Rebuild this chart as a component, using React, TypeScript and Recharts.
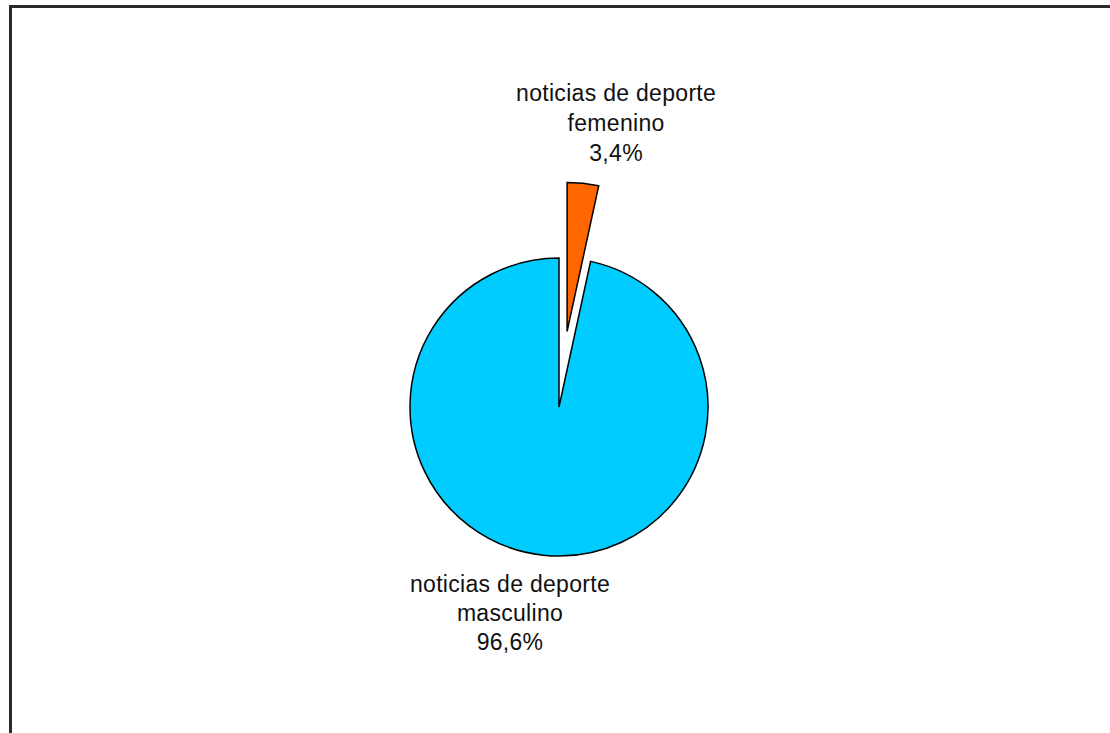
import React from "react";
import { PieChart, Pie, Cell } from "recharts";

const categories = ["noticias de deporte femenino", "noticias de deporte masculino"];
const labelLines = [
  ["noticias de deporte", "femenino"],
  ["noticias de deporte", "masculino"],
];
const values = [3.4, 96.6];
const colors = ["#FF6600", "#00CCFF"];

const data = categories.map((name, i) => ({ name, value: values[i] }));

const W = 1110;
const H = 733;
const CX = 559;
const CY = 407;
const R = 149;
const EXPLODE = 76;

const total = values.reduce((a, b) => a + b, 0);
const femMid = 90 - (values[0] / total) * 360 / 2;
const ECX = CX + EXPLODE * Math.cos((femMid * Math.PI) / 180);
const ECY = CY - EXPLODE * Math.sin((femMid * Math.PI) / 180);

const fmt = (v: number) => v.toFixed(1).replace(".", ",") + "%";

const FONT = "'Liberation Sans', Arial, sans-serif";

function makeLabel(show: number, cx: number, cy: number, dx: number, dy0: number, gap: number) {
  return (props: any) => {
    if (props.index !== show) return <g />;
    const lines = [...labelLines[show], fmt(values[show])];
    return (
      <text
        x={cx + dx}
        y={cy + dy0}
        textAnchor="middle"
        fontFamily={FONT}
        fontSize={23}
        letterSpacing={0.3}
        fill="#111"
      >
        {lines.map((l, i) => (
          <tspan key={i} x={cx + dx} y={cy + dy0 + i * gap}>
            {l}
          </tspan>
        ))}
      </text>
    );
  };
}

export default function App() {
  return (
    <div style={{ position: "absolute", left: 0, top: 0, width: W, height: H, overflow: "hidden", background: "#fff" }}>
      <div
        style={{
          position: "absolute",
          left: 9,
          top: 5,
          width: W + 20,
          height: H + 20,
          borderTop: "3px solid #2a2a2a",
          borderLeft: "3px solid #2a2a2a",
        }}
      />
      <div style={{ position: "absolute", left: 0, top: 0 }}>
        <PieChart width={W} height={H} margin={{ top: 0, right: 0, bottom: 0, left: 0 }}>
          <Pie
            data={data}
            dataKey="value"
            nameKey="name"
            cx={CX}
            cy={CY}
            outerRadius={R}
            startAngle={90}
            endAngle={-270}
            isAnimationActive={false}
            labelLine={false}
            label={makeLabel(1, CX, CY, -49, 185, 29)}
          >
            {data.map((d, i) => (
              <Cell
                key={d.name}
                fill={i === 1 ? colors[1] : "none"}
                stroke={i === 1 ? "#000" : "none"}
                strokeWidth={1.5}
              />
            ))}
          </Pie>
          <Pie
            data={data}
            dataKey="value"
            nameKey="name"
            cx={ECX}
            cy={ECY}
            outerRadius={R}
            startAngle={90}
            endAngle={-270}
            isAnimationActive={false}
            labelLine={false}
            label={makeLabel(0, ECX, ECY, 49, -230, 30)}
          >
            {data.map((d, i) => (
              <Cell
                key={d.name}
                fill={i === 0 ? colors[0] : "none"}
                stroke={i === 0 ? "#000" : "none"}
                strokeWidth={1.5}
              />
            ))}
          </Pie>
        </PieChart>
      </div>
    </div>
  );
}
